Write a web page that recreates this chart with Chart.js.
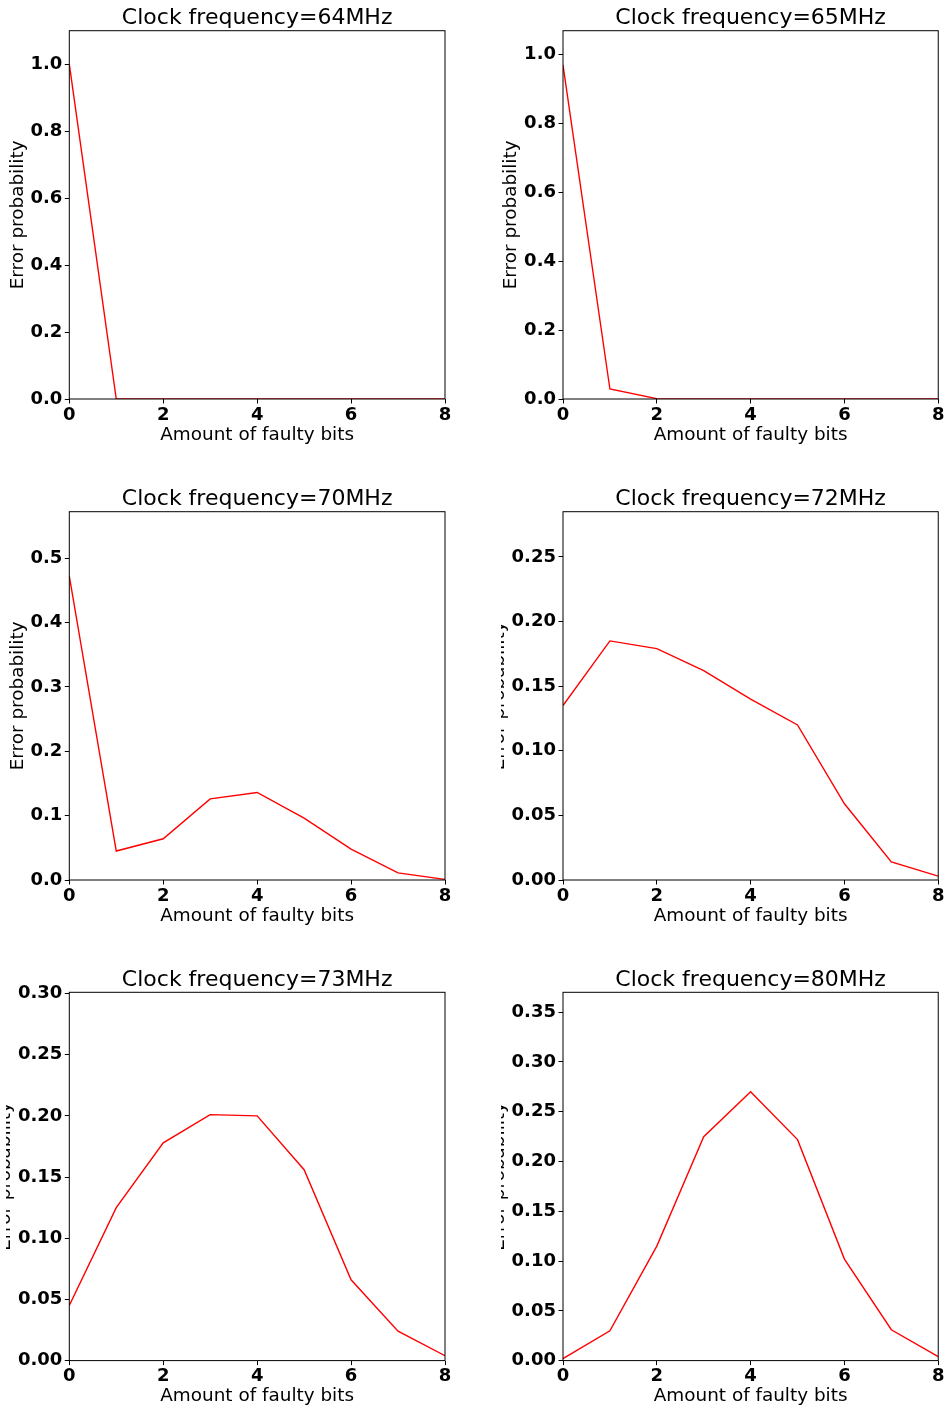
<!DOCTYPE html>
<html>
<head>
<meta charset="utf-8">
<script src="https://cdn.jsdelivr.net/npm/chart.js@4.4.1/dist/chart.umd.min.js"></script>
<style>
html,body{margin:0;padding:0;background:#fff;}
#fig{position:relative;width:947px;height:1408px;overflow:hidden;background:#fff;}
#fig canvas{position:absolute;}
</style>
</head>
<body>
<div id="fig"></div>
<script>
// ---------------- data ----------------
const bits = [0, 1, 2, 3, 4, 5, 6, 7, 8];
const titles = [
  'Clock frequency=64MHz', 'Clock frequency=65MHz',
  'Clock frequency=70MHz', 'Clock frequency=72MHz',
  'Clock frequency=73MHz', 'Clock frequency=80MHz'
];
const prob64 = [1.000, 0.000, 0.000, 0.000, 0.000, 0.000, 0.000, 0.000, 0.000];
const prob65 = [0.970, 0.029, 0.001, 0.000, 0.000, 0.000, 0.000, 0.000, 0.000];
const prob70 = [0.472, 0.045, 0.064, 0.126, 0.136, 0.096, 0.048, 0.011, 0.001];
const prob72 = [0.135, 0.185, 0.179, 0.162, 0.140, 0.120, 0.059, 0.014, 0.003];
const prob73 = [0.045, 0.125, 0.178, 0.201, 0.200, 0.156, 0.066, 0.024, 0.004];
const prob80 = [0.002, 0.030, 0.115, 0.225, 0.270, 0.222, 0.102, 0.031, 0.004];
const seriesList = [prob64, prob65, prob70, prob72, prob73, prob80];
const yMaxes = [1.1, 1.07, 0.572, 0.285, 0.301, 0.370];
const yStepSizes = [0.2, 0.2, 0.1, 0.05, 0.05, 0.05];
const yDecimals = [1, 1, 1, 2, 2, 2];
const xTickValues = [0, 2, 4, 6, 8];
const xLabel = 'Amount of faulty bits';
const yLabel = 'Error probability';

// ---------------- layout ----------------
const FONT = "'DejaVu Sans', 'Liberation Sans', sans-serif";
Chart.defaults.font.family = FONT;
Chart.defaults.color = '#000';
const colPlotLeft = [69.3, 563];
const colPlotRight = [445, 938.7];
const colClip = [6, 501];
const rowTop = [30.7, 511.7, 992.3];
const plotH = 368.3;
const TICK_LEN = 4.5;
const YTICK_PAD = 2.5;
const LABEL_SIZE = 18.4;

const measureCtx = document.createElement('canvas').getContext('2d');
measureCtx.font = "bold 18px " + FONT;

const framePlugin = {
  id: 'frame',
  afterDatasetsDraw(chart) {
    const {ctx, chartArea: a} = chart;
    ctx.save();
    ctx.strokeStyle = '#000';
    ctx.lineWidth = 1;
    ctx.strokeRect(a.left, a.top, a.right - a.left, a.bottom - a.top);
    ctx.restore();
  }
};

const fig = document.getElementById('fig');

seriesList.forEach((series, i) => {
  const col = i % 2, row = Math.floor(i / 2);
  const pl = colPlotLeft[col], pr = colPlotRight[col];
  const pt = rowTop[row], pb = pt + plotH;
  const L = colClip[col];
  const T = Math.floor(pt - 28);
  const R = Math.min(pr + 16, 947);
  const W = Math.ceil(R - L);
  const B = Math.ceil(pb + 47);
  const H = B - T;

  let maxW = 0;
  for (let v = 0; v <= yMaxes[i] + 1e-9; v += yStepSizes[i]) {
    maxW = Math.max(maxW, measureCtx.measureText(v.toFixed(yDecimals[i])).width);
  }
  const labelLeft = pl - TICK_LEN - YTICK_PAD - maxW;
  const yTitleCenter = labelLeft - 12.5;

  const canvas = document.createElement('canvas');
  canvas.width = W; canvas.height = H;
  canvas.style.left = L + 'px';
  canvas.style.top = T + 'px';
  canvas.style.width = W + 'px';
  canvas.style.height = H + 'px';
  fig.appendChild(canvas);

  const xScaleH = B - pb;

  new Chart(canvas.getContext('2d'), {
    type: 'line',
    data: {
      datasets: [{
        data: bits.map((b, j) => ({x: b, y: series[j]})),
        borderColor: '#ff0000',
        borderWidth: 1.4,
        pointRadius: 0,
        tension: 0,
        fill: false
      }]
    },
    options: {
      responsive: false,
      animation: false,
      devicePixelRatio: 1,
      layout: {padding: {left: 0, top: 0, bottom: 0, right: W - (pr - L)}},
      plugins: {
        legend: {display: false},
        tooltip: {enabled: false},
        title: {
          display: true,
          text: titles[i],
          fullSize: false,
          color: '#000',
          font: {size: 22, weight: 'normal', lineHeight: 1},
          padding: {top: (pt - T) - 22 - 1.3, bottom: 1.3}
        }
      },
      scales: {
        x: {
          type: 'linear',
          min: 0, max: 8,
          afterBuildTicks: s => { s.ticks = xTickValues.map(v => ({value: v})); },
          afterFit: s => { s.height = xScaleH; },
          ticks: {
            color: '#000', padding: 2.5, maxRotation: 0, autoSkip: false,
            font: {size: 18, weight: 'bold', lineHeight: 1},
            callback: v => String(v)
          },
          grid: {display: true, drawOnChartArea: false, drawTicks: true, tickLength: TICK_LEN, tickColor: '#000', tickWidth: 1},
          border: {display: false},
          title: {
            display: true, text: xLabel, color: '#000',
            font: {size: LABEL_SIZE, weight: 'normal', lineHeight: 1},
            padding: {top: 0, bottom: xScaleH - LABEL_SIZE / 2 - 36}
          }
        },
        y: {
          type: 'linear',
          min: 0, max: yMaxes[i],
          afterFit: s => { s.width = pl - L; },
          ticks: {
            stepSize: yStepSizes[i], includeBounds: false,
            color: '#000', padding: YTICK_PAD, autoSkip: false,
            font: {size: 18, weight: 'bold', lineHeight: 1},
            callback: v => Number(v).toFixed(yDecimals[i])
          },
          grid: {display: true, drawOnChartArea: false, drawTicks: true, tickLength: TICK_LEN, tickColor: '#000', tickWidth: 1},
          border: {display: false},
          title: {
            display: true, text: yLabel, color: '#000',
            font: {size: LABEL_SIZE, weight: 'normal', lineHeight: 1},
            padding: {top: yTitleCenter - L - LABEL_SIZE / 2, bottom: 0}
          }
        }
      }
    },
    plugins: [framePlugin]
  });
});
</script>
</body>
</html>
